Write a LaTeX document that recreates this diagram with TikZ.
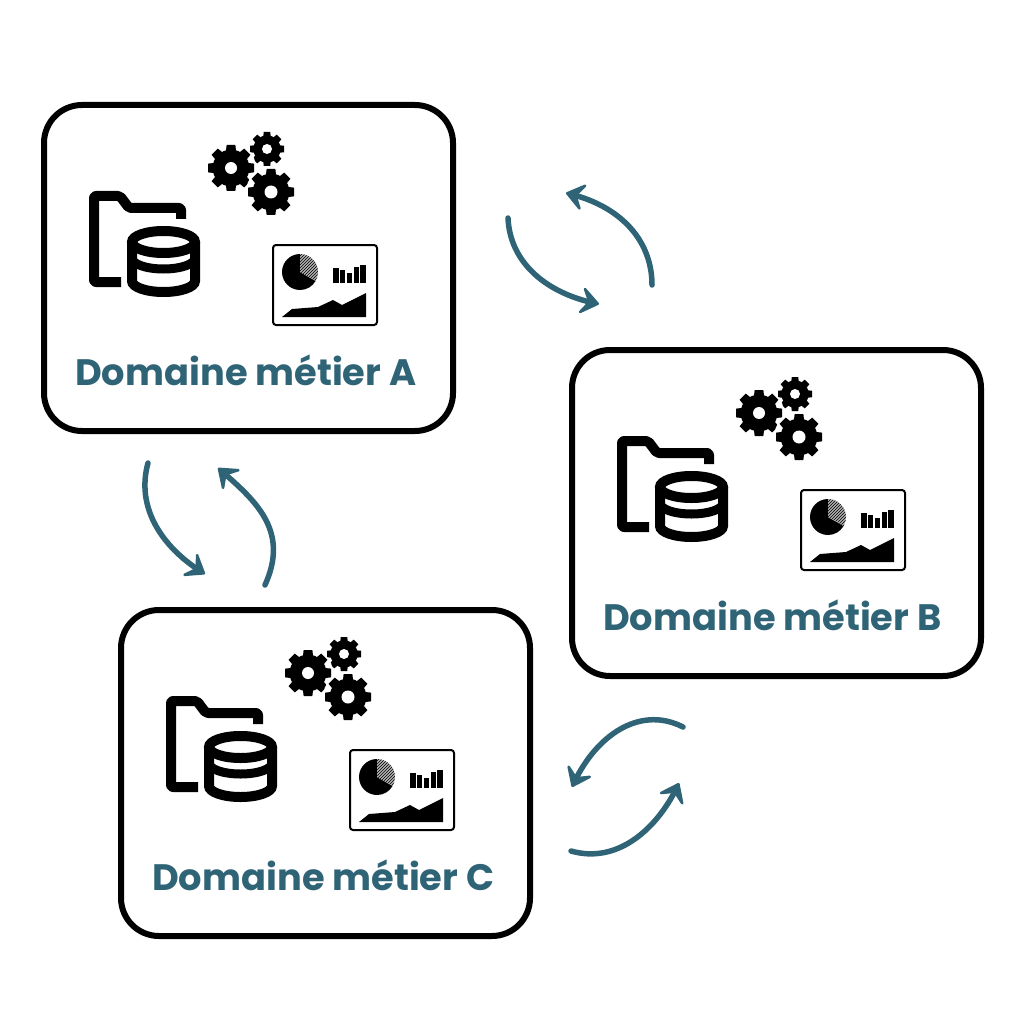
\documentclass[tikz,border=0pt]{standalone}
\usepackage{fontspec}
\setmainfont{Poppins}
\usetikzlibrary{arrows.meta,bending,patterns}

\definecolor{teal}{HTML}{2F6477}

\tikzset{
  panel/.style={draw=black,line width=6pt,rounded corners=38pt,minimum width=409pt,minimum height=326pt,fill=white},
  title/.style={text=teal,anchor=west,font=\fontsize{36.8}{40}\selectfont\bfseries},
  swap/.style={draw=teal,line width=5.5pt,line cap=round,-{Stealth[length=22pt,width=33pt,inset=10pt,flex=0.8,round,line width=2.5pt]}},
  icon/.style={line width=10pt,line join=round}
}

\newcommand{\gearwheel}[4]{
  \fill[white] (#1,#2) circle ({#3+2});
  \fill (#1,#2) circle ({#3*0.8});
  \foreach \a in {0,45,...,315}
    \fill[rotate around={\a:(#1,#2)}] ({#1-#3*0.3},#2) -- ({#1-#3*0.19},{#2+#3}) -- ({#1+#3*0.19},{#2+#3}) -- ({#1+#3*0.3},#2) -- cycle;
  \fill[white] (#1,#2) circle (#4);
}

\newcommand{\domainpanel}[3]{
\begin{scope}[shift={(#2,#3)}]
\node[panel] (box#1) at (248.5,268) {};
\node[title,inner sep=0pt] (title#1) at (75,370.5) {Domaine métier #1};

\gearwheel{267}{149}{17}{5}
\gearwheel{231}{168}{23}{6}
\gearwheel{271}{192}{23}{6.5}

\draw[icon,rounded corners=2pt] (121,282) -- (94,282) -- (94,196) -- (120,196) -- (129,208) -- (181,208) -- (181,219);

\draw[line width=10pt] (163.5,242) ellipse (31.5 and 11);
\draw[line width=10pt] (132,242) -- (132,281) arc (180:0:31.5 and 11) -- (195,242);
\draw[line width=9pt] (132,258) arc (180:0:31.5 and 11);

\draw[line width=2pt,rounded corners=3pt] (273,245) rectangle (377,325);
\fill (300,272) -- (300,254) arc (-90:-330:18) -- cycle;
\fill[gray!60] (300,272) -- (300,254) arc (-90:30:18) -- cycle;
\fill[pattern=north east lines] (300,272) -- (300,254) arc (-90:30:18) -- cycle;
\foreach \x/\w/\t in {333/5.5/268,339.5/5/270,347/5/273,354/5/267,360/6/265}
  \fill (\x,\t) rectangle (\x+\w,283);
\fill (282,317) -- (292,309) -- (318,307) -- (333,300) -- (342,305) -- (366,293) -- (366,317) -- cycle;
\end{scope}
}

\begin{document}
\begin{tikzpicture}[x=1pt,y=-1pt]
\useasboundingbox (0,0) rectangle (1024,1024);

\domainpanel{A}{0}{0}
\domainpanel{B}{528}{245}
\domainpanel{C}{77}{505}

\coordinate (ab1) at (508,218);
\coordinate (ab2) at (599,304);
\coordinate (ba1) at (652,285);
\coordinate (ba2) at (566,193);
\coordinate (bc1) at (683,727);
\coordinate (bc2) at (572,787);
\coordinate (cb1) at (571,851);
\coordinate (cb2) at (679,783);
\coordinate (ac1) at (148,463);
\coordinate (ac2) at (205,574);
\coordinate (ca1) at (265,585);
\coordinate (ca2) at (218,468);

\draw[swap] (ab1) .. controls (510,265) and (550,295) .. (ab2);
\draw[swap] (ba1) .. controls (652,240) and (620,205) .. (ba2);
\draw[swap] (bc1) .. controls (640,705) and (595,735) .. (bc2);
\draw[swap] (cb1) .. controls (620,865) and (660,825) .. (cb2);
\draw[swap] (ac1) .. controls (135,510) and (165,550) .. (ac2);
\draw[swap] (ca1) .. controls (290,530) and (255,500) .. (ca2);

\end{tikzpicture}
\end{document}
